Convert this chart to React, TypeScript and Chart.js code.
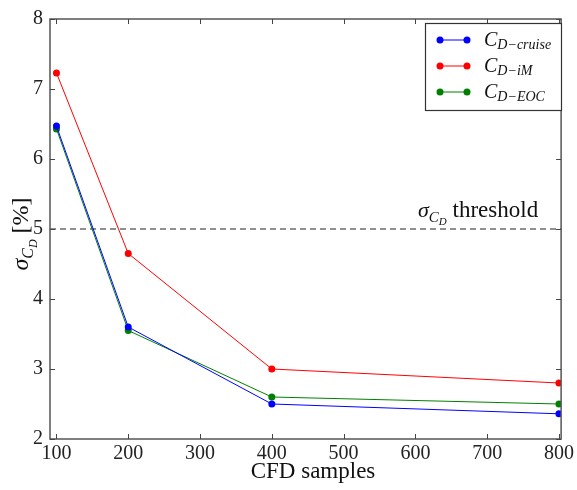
import React, { useEffect, useRef } from "react";
import { Chart, registerables } from "chart.js";

Chart.register(...registerables);

// CFD sample counts and the standard deviation of each drag coefficient (%)
const sampleCounts = [100, 200, 400, 800];
const sigmaCruise = [6.47, 3.6, 2.5, 2.36];
const sigmaIM = [7.23, 4.65, 3.0, 2.8];
const sigmaEOC = [6.43, 3.55, 2.6, 2.5];

const xTickValues = [100, 200, 300, 400, 500, 600, 700, 800];
const yTickValues = [2, 3, 4, 5, 6, 7, 8];
const thresholdValue = 5;

const seriesSubscripts = ["D\u2212cruise", "D\u2212iM", "D\u2212EOC"];
const seriesColors = ["#0000ff", "#ff0000", "#008000"];

const SERIF = "'Liberation Serif', 'Times New Roman', serif";

type Run = { text: string; font: string; dy: number };

function runsWidth(ctx: CanvasRenderingContext2D, runs: Run[]) {
  let w = 0;
  for (const r of runs) {
    ctx.font = r.font;
    w += ctx.measureText(r.text).width;
  }
  return w;
}

function drawRuns(ctx: CanvasRenderingContext2D, runs: Run[], x: number, y: number) {
  let cx = x;
  for (const r of runs) {
    ctx.font = r.font;
    ctx.fillText(r.text, cx, y + r.dy);
    cx += ctx.measureText(r.text).width;
  }
}

const decorations = {
  id: "decorations",
  beforeDatasetsDraw(chart: any) {
    const { ctx, chartArea: a, scales } = chart;
    const y = scales.y.getPixelForValue(thresholdValue);
    ctx.save();
    ctx.strokeStyle = "#222";
    ctx.lineWidth = 1.2;
    ctx.setLineDash([6, 4]);
    ctx.beginPath();
    ctx.moveTo(a.left, y);
    ctx.lineTo(a.right, y);
    ctx.stroke();
    ctx.restore();
  },
  afterDraw(chart: any) {
    const { ctx, chartArea: a, scales } = chart;
    ctx.save();

    // frame
    ctx.strokeStyle = "#555";
    ctx.lineWidth = 1.5;
    ctx.setLineDash([]);
    ctx.strokeRect(a.left, a.top, a.right - a.left, a.bottom - a.top);

    // inward tick marks on all four sides
    ctx.lineWidth = 1;
    ctx.strokeStyle = "#444";
    ctx.beginPath();
    for (const v of xTickValues) {
      const px = Math.round(scales.x.getPixelForValue(v)) + 0.5;
      ctx.moveTo(px, a.bottom);
      ctx.lineTo(px, a.bottom - 5);
      ctx.moveTo(px, a.top);
      ctx.lineTo(px, a.top + 5);
    }
    for (const v of yTickValues) {
      const py = Math.round(scales.y.getPixelForValue(v)) + 0.5;
      ctx.moveTo(a.left, py);
      ctx.lineTo(a.left + 5, py);
      ctx.moveTo(a.right, py);
      ctx.lineTo(a.right - 5, py);
    }
    ctx.stroke();

    // threshold label
    ctx.fillStyle = "#111";
    ctx.textBaseline = "alphabetic";
    ctx.textAlign = "left";
    const ty = scales.y.getPixelForValue(thresholdValue) - 12;
    drawRuns(
      ctx,
      [
        { text: "\u03c3", font: `italic 22px ${SERIF}`, dy: 0 },
        { text: "C", font: `italic 15px ${SERIF}`, dy: 5 },
        { text: "D", font: `italic 11px ${SERIF}`, dy: 8 },
        { text: " threshold", font: `23px ${SERIF}`, dy: 0 },
      ],
      418,
      ty
    );

    // legend
    const lx = 425, ly = 23, lw = 136, lh = 87;
    ctx.fillStyle = "#fff";
    ctx.fillRect(lx, ly, lw, lh);
    ctx.strokeStyle = "#333";
    ctx.lineWidth = 1.2;
    ctx.strokeRect(lx + 0.5, ly + 0.5, lw, lh);
    const rowY = [40, 66, 92];
    seriesSubscripts.forEach((sub, i) => {
      const cy = rowY[i];
      const col = seriesColors[i];
      ctx.strokeStyle = col;
      ctx.lineWidth = 1;
      ctx.beginPath();
      ctx.moveTo(440, cy);
      ctx.lineTo(467, cy);
      ctx.stroke();
      ctx.fillStyle = col;
      for (const mx of [440, 467]) {
        ctx.beginPath();
        ctx.arc(mx, cy, 3.5, 0, Math.PI * 2);
        ctx.fill();
      }
      ctx.fillStyle = "#111";
      drawRuns(
        ctx,
        [
          { text: "C", font: `italic 20px ${SERIF}`, dy: 0 },
          { text: sub, font: `italic 14px ${SERIF}`, dy: 3 },
        ],
        484,
        cy + 6
      );
    });

    // axis titles
    ctx.fillStyle = "#111";
    ctx.font = `23px ${SERIF}`;
    ctx.textAlign = "center";
    ctx.fillText("CFD samples", 313, 478);

    const yRuns: Run[] = [
      { text: "\u03c3", font: `italic 24px ${SERIF}`, dy: 0 },
      { text: "C", font: `italic 16px ${SERIF}`, dy: 5 },
      { text: "D", font: `italic 12px ${SERIF}`, dy: 9 },
      { text: " [%]", font: `24px ${SERIF}`, dy: 0 },
    ];
    ctx.textAlign = "left";
    ctx.translate(28, 234);
    ctx.rotate(-Math.PI / 2);
    const w = runsWidth(ctx, yRuns);
    drawRuns(ctx, yRuns, -w / 2, 0);

    ctx.restore();
  },
};

export default function App() {
  const canvasRef = useRef<HTMLCanvasElement | null>(null);

  useEffect(() => {
    document.body.style.margin = "0";
    const canvas = canvasRef.current;
    if (!canvas) return;

    const makeSeries = (vals: number[], color: string) => ({
      data: sampleCounts.map((x, i) => ({ x, y: vals[i] })),
      borderColor: color,
      backgroundColor: color,
      borderWidth: 1,
      pointRadius: 3.5,
      pointBorderWidth: 0,
      pointBackgroundColor: color,
      tension: 0,
    });

    const chart = new Chart(canvas, {
      type: "line",
      data: {
        datasets: [
          makeSeries(sigmaCruise, seriesColors[0]),
          makeSeries(sigmaIM, seriesColors[1]),
          makeSeries(sigmaEOC, seriesColors[2]),
        ],
      },
      options: {
        responsive: false,
        animation: false,
        layout: { padding: { top: 15, right: 10, left: 0, bottom: 0 } },
        plugins: { legend: { display: false }, tooltip: { enabled: false } },
        scales: {
          x: {
            type: "linear",
            min: 91,
            max: 803,
            grid: { display: false, drawTicks: false },
            border: { display: false },
            afterBuildTicks: (scale: any) => {
              scale.ticks = xTickValues.map((v) => ({ value: v }));
            },
            afterFit: (scale: any) => {
              scale.height = 51;
            },
            ticks: {
              padding: 3,
              color: "#222",
              maxRotation: 0,
              autoSkip: false,
              font: { family: SERIF, size: 20 },
            },
          },
          y: {
            type: "linear",
            min: 2,
            max: 8,
            grid: { display: false, drawTicks: false },
            border: { display: false },
            afterBuildTicks: (scale: any) => {
              scale.ticks = yTickValues.map((v) => ({ value: v }));
            },
            afterFit: (scale: any) => {
              scale.width = 50;
            },
            ticks: {
              padding: 7,
              color: "#222",
              font: { family: SERIF, size: 20 },
            },
          },
        },
      },
      plugins: [decorations],
    });

    return () => chart.destroy();
  }, []);

  return <canvas ref={canvasRef} width={577} height={490} />;
}
